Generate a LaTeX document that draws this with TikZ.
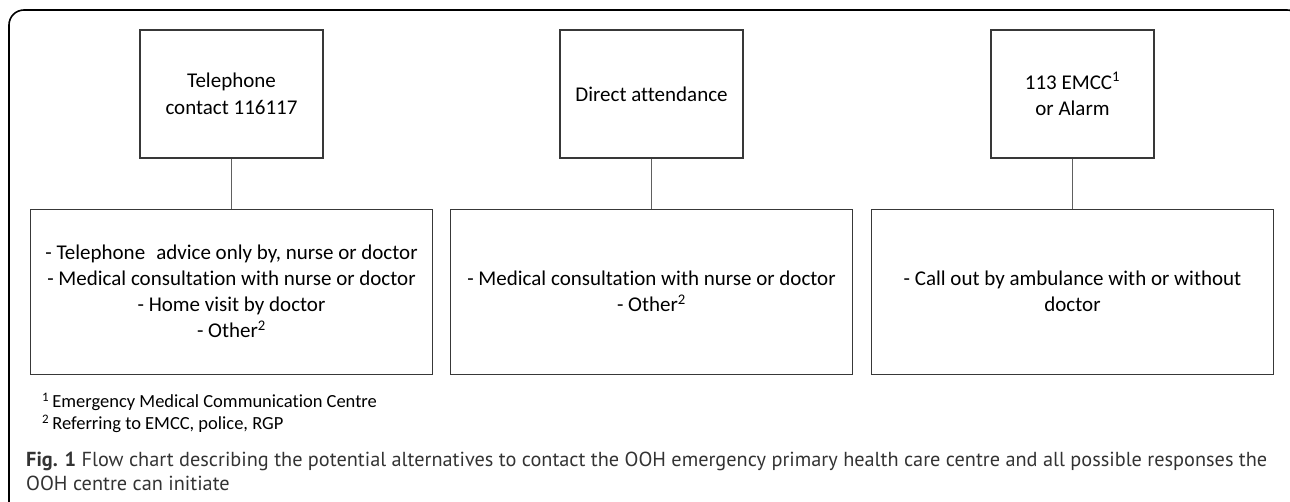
\documentclass[tikz,border=0pt]{standalone}
\usepackage{fontspec}
\setmainfont{Carlito}[Ligatures=NoCommon]
\newfontfamily\capfont{PT Sans}
\usetikzlibrary{positioning}

\definecolor{boxline}{gray}{0.22}
\definecolor{captext}{gray}{0.2}

\tikzset{
  topbox/.style={draw=boxline, line width=1.1pt, minimum height=128pt,
    align=center, inner sep=2pt, font=\fontsize{21}{26.5}\selectfont},
  resbox/.style={draw=boxline, line width=1.1pt, minimum width=402pt,
    minimum height=165pt, align=center, inner sep=2pt,
    font=\fontsize{21}{26}\selectfont},
  link/.style={draw=boxline!80, line width=0.8pt},
  frame/.style={draw=black, line width=1.6pt, rounded corners=15pt}
}

\begin{document}
\begin{tikzpicture}[x=1pt, y=-1pt]
    \useasboundingbox (0,0) rectangle (1290,501);

    % outer frame, cut off at the right and bottom
    \begin{scope}
      \clip (0,0) rectangle (1290,501);
      \draw[frame] (9,10) rectangle (1302,540);
    \end{scope}

    % ways of contact
    \node[topbox, minimum width=183pt] (phone) at (231.5,94) {Telephone\\contact 116117};
    \node[topbox, minimum width=183pt] (walkin) at (651.5,94) {Direct attendance};
    \node[topbox, minimum width=163pt] (emcc) at (1072.5,94) {113 EMCC\textsuperscript{1}\\or Alarm};

    % responses
    \node[resbox, below=50pt of phone] (phoneres)
      {- Telephone\hspace{0.3em} advice only by, nurse or doctor\\
       - Medical consultation with nurse or doctor\\
       - Home visit by doctor\\
       - Other\textsuperscript{2}};
    \node[resbox, below=50pt of walkin] (walkinres)
      {- Medical consultation with nurse or doctor\\
       - Other\textsuperscript{2}};
    \node[resbox, below=50pt of emcc] (emccres)
      {- Call out by ambulance with or without\\doctor};

    \path[link] (phone) -- (phoneres);
    \path[link] (walkin) -- (walkinres);
    \path[link] (emcc) -- (emccres);

    % footnotes
    \node[anchor=west, align=left, inner sep=0pt,
      font=\fontsize{18.5}{22}\selectfont] (notes) at (42,413)
      {\textsuperscript{1}\,Emergency Medical Communication Centre\\
       \textsuperscript{2}\,Referring to EMCC, police, RGP};

    % caption
    \node[anchor=west, align=left, inner sep=0pt, text=captext,
      font=\capfont\fontsize{20.3}{24}\selectfont] (caption) at (26,471)
      {\textbf{Fig. 1} Flow chart describing the potential alternatives to contact the OOH emergency primary health care centre and all possible responses the\\
       OOH centre can initiate};
\end{tikzpicture}
\end{document}
